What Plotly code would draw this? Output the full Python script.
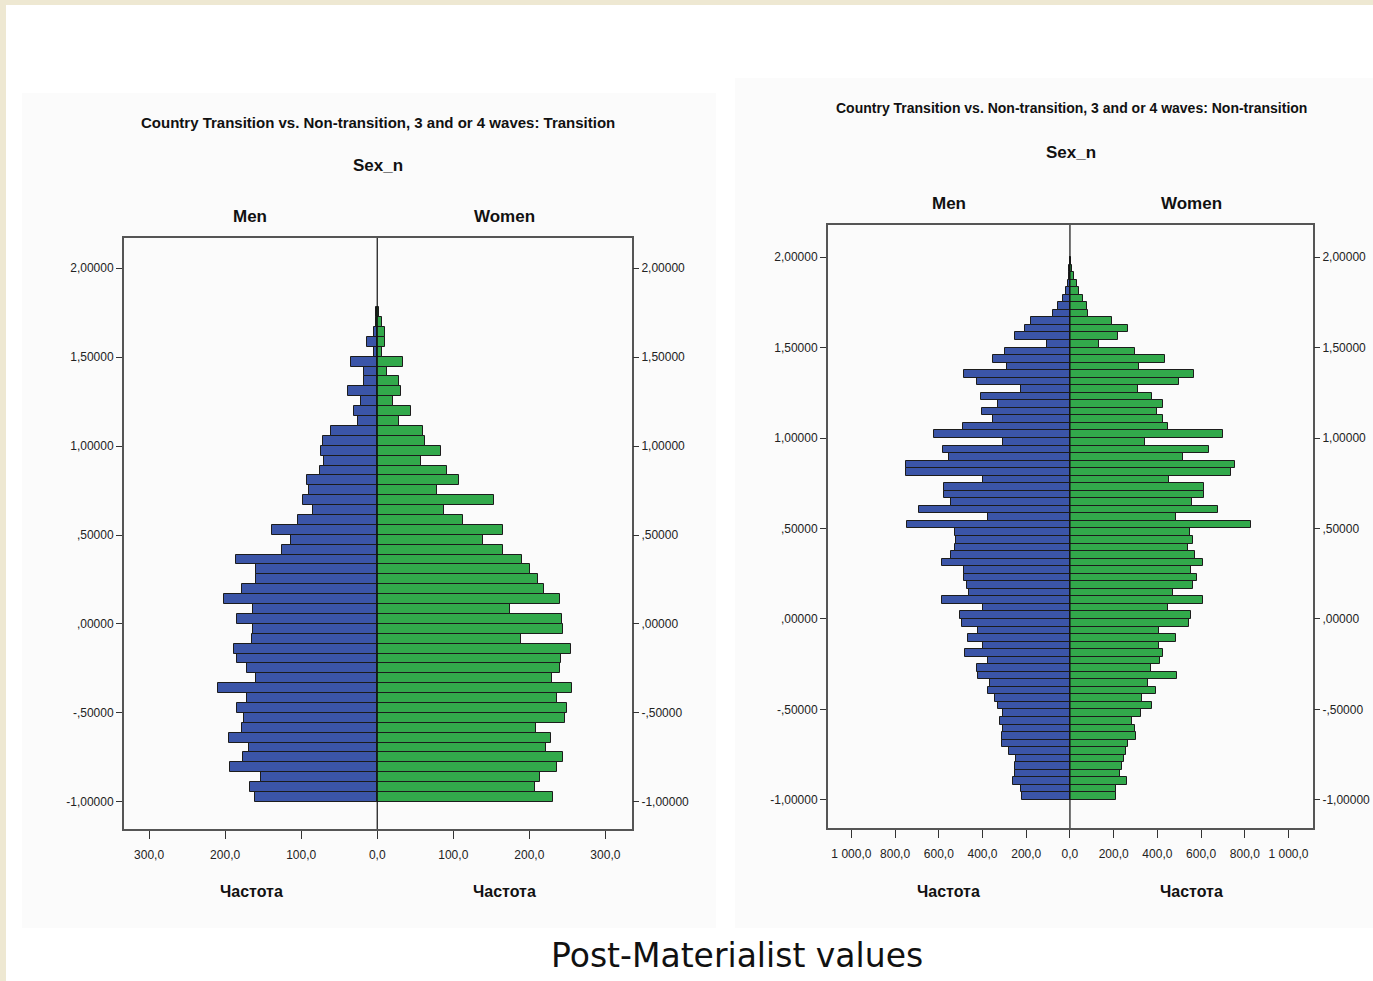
import plotly.graph_objects as go

# ---------------- data ----------------
# Transition panel: histogram counts per bin, from the lowest bin (-1.0) upward
trans_bin_start = -1.0
trans_bin_width = 0.0556
trans_men = [161, 167, 153, 194, 176, 169, 195, 178, 175, 185,
             171, 210, 160, 171, 185, 188, 165, 163, 185, 164,
             201, 178, 160, 160, 186, 125, 114, 139, 104, 85,
             97, 90, 93, 75, 70, 74, 71, 61, 25, 31,
             22, 39, 17, 18, 35, 4, 13, 4, 2, 1]
trans_women = [231, 207, 214, 236, 244, 222, 228, 209, 247, 249,
               237, 256, 230, 240, 242, 255, 189, 244, 243, 174,
               240, 219, 211, 201, 190, 165, 139, 165, 113, 88,
               154, 79, 108, 92, 57, 84, 63, 60, 28, 44,
               21, 31, 29, 13, 34, 6, 10, 10, 6, 2]

# Non-transition panel
nontrans_bin_start = -1.0
nontrans_bin_width = 1.0 / 24
nontrans_men = [221, 226, 259, 252, 252, 247, 278, 313, 313, 308,
                320, 305, 328, 343, 374, 366, 420, 427, 374, 481,
                397, 465, 420, 496, 503, 397, 584, 461, 473, 485,
                485, 587, 542, 526, 522, 526, 745, 377, 691, 545,
                577, 577, 397, 751, 751, 552, 580, 308, 621, 491,
                351, 404, 331, 407, 224, 427, 485, 290, 354, 297,
                107, 252, 206, 180, 76, 53, 34, 18, 8, 5,
                3, 1]
nontrans_women = [211, 211, 262, 229, 236, 247, 256, 267, 302, 297,
                  282, 323, 374, 328, 394, 359, 491, 371, 412, 424,
                  409, 485, 409, 546, 554, 447, 610, 473, 561, 580,
                  552, 607, 572, 539, 561, 549, 827, 485, 679, 557,
                  615, 613, 455, 735, 755, 519, 638, 343, 699, 450,
                  427, 400, 424, 374, 313, 500, 569, 317, 435, 297,
                  134, 221, 264, 191, 84, 76, 58, 43, 33, 20,
                  10, 3]

ytick_vals = [2.0, 1.5, 1.0, 0.5, 0.0, -0.5, -1.0]
ytick_text = ["2,00000", "1,50000", "1,00000", ",50000", ",00000", "-,50000", "-1,00000"]
trans_xtick_vals = [-300, -200, -100, 0, 100, 200, 300]
trans_xtick_text = ["300,0", "200,0", "100,0", "0,0", "100,0", "200,0", "300,0"]
nontrans_xtick_vals = [-1000, -800, -600, -400, -200, 0, 200, 400, 600, 800, 1000]
nontrans_xtick_text = ["1 000,0", "800,0", "600,0", "400,0", "200,0", "0,0",
                       "200,0", "400,0", "600,0", "800,0", "1 000,0"]

title_left = "Country Transition vs. Non-transition, 3 and or 4 waves: Transition"
title_right = "Country Transition vs. Non-transition, 3 and or 4 waves: Non-transition"
caption = "Post-Materialist values"

# ---------------- styling ----------------
W, H = 1373, 981
NARROW = "Liberation Sans, Arial, sans-serif"
BLUE = "#3B55A8"
GREEN = "#32A94B"
EDGE = "#1c1c1c"
PLOTBG = "#F0F0F0"
AXC = "#555555"


def px(x):
    return x / W


def py(y):
    return 1 - y / H


def centers(start, width, n):
    return [start + (i + 0.5) * width for i in range(n)]


fig = go.Figure()

panels = [
    dict(men=trans_men, women=trans_women, start=trans_bin_start, width=trans_bin_width,
         xa="x", ya="y", ya_r="y3"),
    dict(men=nontrans_men, women=nontrans_women, start=nontrans_bin_start,
         width=nontrans_bin_width, xa="x2", ya="y2", ya_r="y4"),
]

for p in panels:
    yc = centers(p["start"], p["width"], len(p["men"]))
    fig.add_trace(go.Bar(
        y=yc, x=[-v for v in p["men"]], orientation="h", width=p["width"],
        marker=dict(color=BLUE, line=dict(color=EDGE, width=1)),
        xaxis=p["xa"], yaxis=p["ya"], showlegend=False, hoverinfo="skip"))
    yc2 = centers(p["start"], p["width"], len(p["women"]))
    fig.add_trace(go.Bar(
        y=yc2, x=p["women"], orientation="h", width=p["width"],
        marker=dict(color=GREEN, line=dict(color=EDGE, width=1)),
        xaxis=p["xa"], yaxis=p["ya"], showlegend=False, hoverinfo="skip"))
    # invisible trace for right-hand mirrored y axis
    fig.add_trace(go.Scatter(x=[0], y=[0], mode="markers", marker=dict(opacity=0),
                             xaxis=p["xa"], yaxis=p["ya_r"], showlegend=False,
                             hoverinfo="skip"))

tickfont = dict(family=NARROW, size=12, color="#222222")

common_y = dict(tickvals=ytick_vals, ticktext=ytick_text, ticks="outside", ticklen=6,
                tickcolor="#333333", tickfont=tickfont, showgrid=False, zeroline=False,
                fixedrange=True)
common_x = dict(ticks="outside", ticklen=8, tickcolor="#333333", tickfont=tickfont,
                showgrid=False, zeroline=False, showline=True, linecolor=AXC, linewidth=2,
                mirror=True, ticklabelstandoff=6)

L_dom_x = [px(124), px(632)]
L_dom_y = [py(829), py(238)]
R_dom_x = [px(828), px(1313)]
R_dom_y = [py(828), py(225)]
L_yr = [-1.152, 2.169]
R_yr = [-1.155, 2.177]

fig.update_layout(
    width=W, height=H, margin=dict(l=0, r=0, t=0, b=0),
    paper_bgcolor="white", plot_bgcolor=PLOTBG, barmode="overlay", bargap=0,
    xaxis=dict(domain=L_dom_x, range=[-333, 335], tickvals=trans_xtick_vals,
               ticktext=trans_xtick_text, anchor="y", **common_x),
    yaxis=dict(domain=L_dom_y, range=L_yr, anchor="x", showline=True, linecolor=AXC,
               linewidth=2, mirror=True, **common_y),
    yaxis3=dict(range=L_yr, overlaying="y", side="right", anchor="x", showline=False,
                **common_y),
    xaxis2=dict(domain=R_dom_x, range=[-1107, 1112], tickvals=nontrans_xtick_vals,
                ticktext=nontrans_xtick_text, anchor="y2", **common_x),
    yaxis2=dict(domain=R_dom_y, range=R_yr, anchor="x2", showline=True, linecolor=AXC,
                linewidth=2, mirror=True, **common_y),
    yaxis4=dict(range=R_yr, overlaying="y2", side="right", anchor="x2", showline=False,
                **common_y),
)

shapes = []
# slide background: beige borders
shapes.append(dict(type="rect", xref="paper", yref="paper", x0=0, x1=1, y0=py(5), y1=1,
                   fillcolor="#EEE8D2", line=dict(width=0), layer="below"))
shapes.append(dict(type="rect", xref="paper", yref="paper", x0=0, x1=px(6), y0=0, y1=1,
                   fillcolor="#EEE8D2", line=dict(width=0), layer="below"))
# faint chart image backgrounds
shapes.append(dict(type="rect", xref="paper", yref="paper", x0=px(22), x1=px(716),
                   y0=py(928), y1=py(93), fillcolor="#FBFBFB", line=dict(width=0),
                   layer="below"))
shapes.append(dict(type="rect", xref="paper", yref="paper", x0=px(735), x1=1,
                   y0=py(928), y1=py(78), fillcolor="#FBFBFB", line=dict(width=0),
                   layer="below"))
# centre lines
for xa, ya in [("x", "y"), ("x2", "y2")]:
    shapes.append(dict(type="line", xref=xa, yref=ya + " domain", x0=0, x1=0, y0=0, y1=1,
                       line=dict(color="#111111", width=1.2)))
fig.update_layout(shapes=shapes)

ann = []


def text(x, y, s, size, bold=True, family=NARROW):
    ann.append(dict(x=px(x), y=py(y), xref="paper", yref="paper",
                    text=("<b>%s</b>" % s) if bold else s,
                    showarrow=False, xanchor="center", yanchor="middle",
                    font=dict(family=family, size=size, color="#111111")))


text(378, 123, title_left, 15)
text(378, 166, "Sex_n", 17)
text(250, 216, "Men", 17)
text(504, 216, "Women", 17)
text(251, 891, "Частота", 16)
text(504, 891, "Частота", 16)

text(1071, 108, title_right, 14)
text(1071, 152, "Sex_n", 17)
text(949, 203, "Men", 17)
text(1191, 203, "Women", 17)
text(949, 891, "Частота", 16)
text(1191, 891, "Частота", 16)

text(737, 955, caption, 33, bold=False, family="DejaVu Sans, Verdana, sans-serif")

fig.update_layout(annotations=ann)

fig.write_html("out.html")
